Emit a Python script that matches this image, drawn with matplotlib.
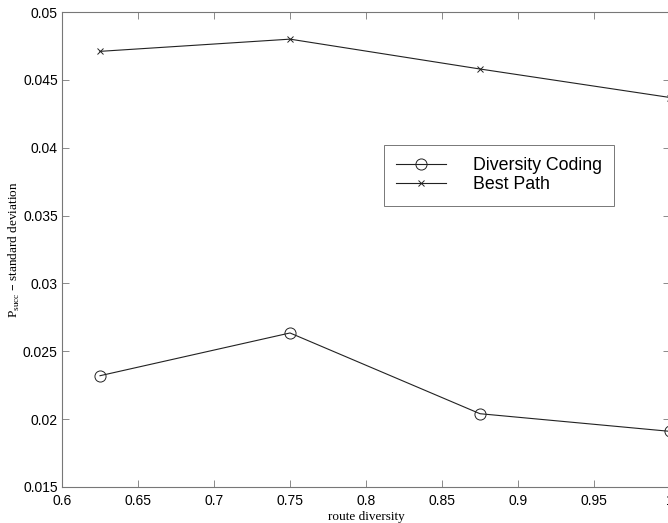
import matplotlib.pyplot as plt

route_diversity = [0.625, 0.75, 0.875, 1.0]
diversity_coding = [0.0232, 0.02635, 0.0204, 0.0191]
best_path = [0.0471, 0.0480, 0.0458, 0.0437]

x_ticks = [0.6, 0.65, 0.7, 0.75, 0.8, 0.85, 0.9, 0.95, 1.0]
x_labels = ["0.6", "0.65", "0.7", "0.75", "0.8", "0.85", "0.9", "0.95", "1"]
y_ticks = [0.015, 0.02, 0.025, 0.03, 0.035, 0.04, 0.045, 0.05]
y_labels = ["0.015", "0.02", "0.025", "0.03", "0.035", "0.04", "0.045", "0.05"]

fig = plt.figure(figsize=(6.68, 5.23), dpi=100)
ax = fig.add_axes([62 / 668, 1 - 487 / 523, 608 / 668, 475 / 523])

ax.plot(route_diversity, diversity_coding, color="#222222", lw=0.8,
        marker="o", markersize=8, markerfacecolor="none", markeredgewidth=0.7,
        label="Diversity Coding")
ax.plot(route_diversity, best_path, color="#222222", lw=0.8,
        marker="x", markersize=5, markeredgewidth=0.7, label="Best Path")

ax.set_xlim(0.6, 1.0)
ax.set_ylim(0.015, 0.05)
ax.set_xticks(x_ticks)
ax.set_xticklabels(x_labels, family="Liberation Sans", fontsize=10)
ax.set_yticks(y_ticks)
ax.set_yticklabels(y_labels, family="Liberation Sans", fontsize=10)
ax.tick_params(direction="in", top=True, right=True, length=5, width=0.6,
               color="#777777")
ax.tick_params(axis="x", pad=5)
ax.tick_params(axis="y", pad=3)
for s in ax.spines.values():
    s.set_color("#777777")
    s.set_linewidth(0.8)

ax.set_xlabel("route diversity", family="Liberation Serif", fontsize=9.5, labelpad=2.5)
ax.set_ylabel(r"P$_{\mathregular{succ}}$ – standard deviation",
              family="Liberation Serif", fontsize=9.5, labelpad=1)

leg = ax.legend(loc="upper left", bbox_to_anchor=((384 - 62) / 608, 1 - (145 - 12) / 475),
                prop={"family": "Liberation Sans", "size": 12.8}, fancybox=False,
                handlelength=2.8, handletextpad=1.5, borderpad=0.7, labelspacing=0.1,
                borderaxespad=0)
leg.get_frame().set_edgecolor("#555555")
leg.get_frame().set_linewidth(0.7)

fig.savefig("out.png", dpi=100)
